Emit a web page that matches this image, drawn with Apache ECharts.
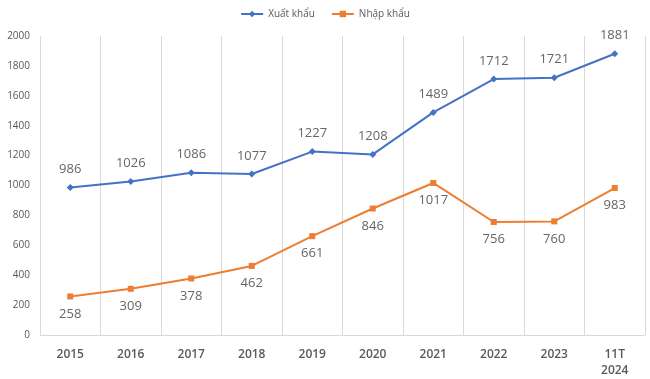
<!DOCTYPE html>
<html><head><meta charset="utf-8">
<script src="https://cdn.jsdelivr.net/npm/echarts@6/dist/echarts.min.js"></script>
<style>html,body{margin:0;padding:0;background:#fff}#c{width:650px;height:379px}</style>
</head><body><div id="c"></div>
<script>
const categories = ['2015','2016','2017','2018','2019','2020','2021','2022','2023','11T\n2024'];
const exportValues = [986,1026,1086,1077,1227,1208,1489,1712,1721,1881];
const importValues = [258,309,378,462,661,846,1017,756,760,983];
const seriesNames = ['Xuất khẩu','Nhập khẩu'];

const chart = echarts.init(document.getElementById('c'));
const labelStyle = {show:true, color:'#666666', fontSize:13, fontFamily:'Open Sans, Calibri, sans-serif', distance:8};
chart.setOption({
  animation:false,
  legend:{top:4, left:'center', itemWidth:22, itemHeight:8, itemGap:16,
    textStyle:{fontSize:10, color:'#595959', fontFamily:'Open Sans, sans-serif'}},
  grid:{left:40, right:5, top:36, bottom:44},
  xAxis:{type:'category', data:categories, boundaryGap:true,
    axisLine:{lineStyle:{color:'#d9d9d9'}}, axisTick:{show:false},
    splitLine:{show:true, lineStyle:{color:'#d9d9d9'}},
    axisLabel:{color:'#595959', fontSize:12, fontWeight:600, margin:12, lineHeight:16, fontFamily:'Open Sans, sans-serif'}},
  yAxis:{type:'value', min:0, max:2000, interval:200,
    axisLine:{show:false}, axisTick:{show:false}, splitLine:{show:false},
    axisLabel:{color:'#595959', fontSize:10, margin:10, formatter:v=>String(v), fontFamily:'Open Sans, sans-serif'}},
  series:[
    {name:seriesNames[0], type:'line', data:exportValues, symbol:'diamond', symbolSize:7,
      itemStyle:{color:'#4472C4'}, lineStyle:{width:2, color:'#4472C4'},
      label:Object.assign({position:'top'}, labelStyle)},
    {name:seriesNames[1], type:'line', data:importValues, symbol:'rect', symbolSize:6,
      itemStyle:{color:'#ED7D31'}, lineStyle:{width:2, color:'#ED7D31'},
      label:Object.assign({position:'bottom'}, labelStyle)}
  ]
});
</script></body></html>
